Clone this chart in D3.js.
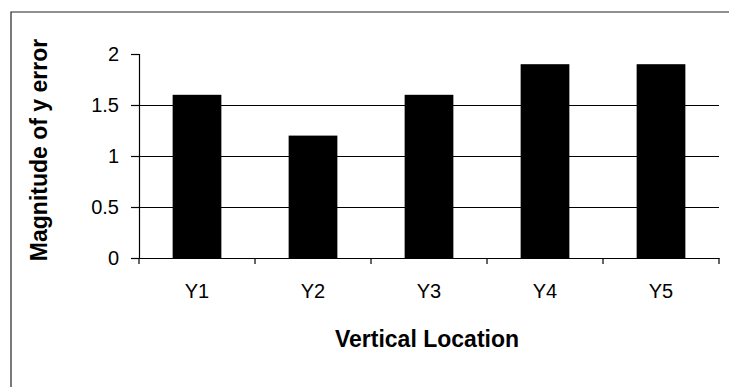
<!DOCTYPE html>
<html><head><meta charset="utf-8">
<script src="https://cdn.jsdelivr.net/npm/d3@7"></script>
<style>body{margin:0;background:#fff}svg{display:block}</style>
</head><body>
<svg id="c" width="729" height="387"></svg>
<script>
const categories = ["Y1", "Y2", "Y3", "Y4", "Y5"];
const values = [1.6, 1.2, 1.6, 1.9, 1.9];
const yTicks = [0, 0.5, 1, 1.5, 2];
const gridTicks = [0.5, 1, 1.5];
const xTitle = "Vertical Location";
const yTitle = "Magnitude of y error";

const svg = d3.select("#c");
const m = {left: 139, right: 719, top: 54, bottom: 258};
const font = "Liberation Sans, Arial, sans-serif";

// frame
svg.append("path").attr("d", "M11,387V12H729").attr("fill", "none").attr("stroke", "#222").attr("stroke-width", 1.2);

const x = d3.scaleBand().domain(categories).range([m.left, m.right]).paddingInner(0.58).paddingOuter(0.29);
const y = d3.scaleLinear().domain([0, 2]).range([m.bottom, m.top]);

// gridlines
svg.append("g").selectAll("line").data(gridTicks).join("line")
  .attr("x1", m.left).attr("x2", m.right)
  .attr("y1", d => Math.round(y(d)) + 0.5).attr("y2", d => Math.round(y(d)) + 0.5)
  .attr("stroke", "#000").attr("stroke-width", 1);

// bars
svg.append("g").selectAll("rect").data(values).join("rect")
  .attr("x", (d, i) => x(categories[i]))
  .attr("width", x.bandwidth())
  .attr("y", d => y(d))
  .attr("height", d => y(0) - y(d))
  .attr("fill", "#000");

// y axis
const yAxis = svg.append("g").attr("transform", `translate(${m.left},0)`)
  .call(d3.axisLeft(y).tickValues(yTicks).tickSize(8).tickPadding(12).tickFormat(d => String(d)));
yAxis.select(".domain").attr("stroke", "#000").attr("stroke-width", 1.2);
yAxis.selectAll(".tick line").attr("stroke", "#000").attr("stroke-width", 1.2);
yAxis.selectAll("text").attr("font-family", font).attr("font-size", 20).attr("fill", "#000");

// x axis
const xAxis = svg.append("g").attr("transform", `translate(0,${m.bottom})`)
  .call(d3.axisBottom(x).tickSize(0).tickPadding(26));
xAxis.select(".domain").attr("stroke", "#000").attr("stroke-width", 1.2);
xAxis.selectAll("text").attr("font-family", font).attr("font-size", 20).attr("fill", "#000");
const bounds = d3.range(categories.length + 1).map(i => m.left + i * (m.right - m.left) / categories.length);
xAxis.selectAll(".bt").data(bounds).join("line").attr("class", "bt")
  .attr("x1", d => d).attr("x2", d => d).attr("y1", 0).attr("y2", 6)
  .attr("stroke", "#000").attr("stroke-width", 1.2);

// titles
svg.append("text").attr("x", 427).attr("y", 347).attr("text-anchor", "middle")
  .attr("font-family", font).attr("font-weight", "bold").attr("font-size", 23).text(xTitle);
svg.append("text").attr("transform", "translate(47,150) rotate(-90)").attr("text-anchor", "middle")
  .attr("font-family", font).attr("font-weight", "bold").attr("font-size", 23).text(yTitle);
</script>
</body></html>
